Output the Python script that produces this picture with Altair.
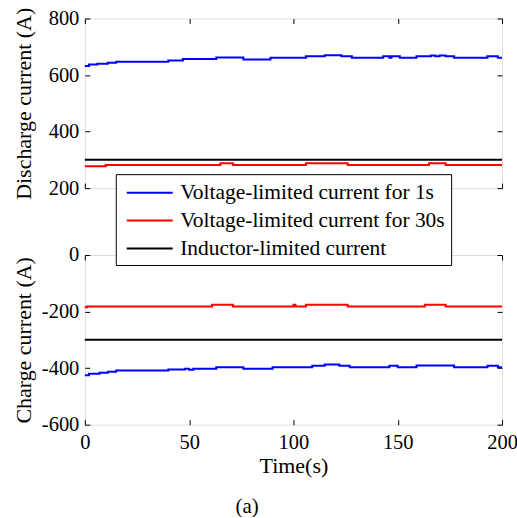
import altair as alt
import pandas as pd

S1 = "Voltage-limited current for 1s"
S2 = "Voltage-limited current for 30s"
S3 = "Inductor-limited current"

# Discharge panel
t_blue_dis = [0, 2, 6, 11, 15, 40, 47, 63, 76, 89, 106, 115, 123, 128, 143, 146, 147, 151, 159, 166, 168, 170, 173, 177, 193, 198, 200]
v_blue_dis = [632, 637, 640, 643, 647, 651, 657, 662, 655, 661, 666, 670, 666, 661, 666, 661, 666, 661, 666, 669, 666, 669, 666, 661, 666, 661, 661]
t_red_dis = [0, 10, 65, 71, 106, 126, 165, 173, 200]
v_red_dis = [277, 282, 288, 282, 288, 282, 288, 282, 282]
t_black_dis = [0, 200]
v_black_dis = [300, 300]

# Charge panel
t_blue_chg = [0, 2, 7, 11, 15, 40, 48, 50, 52, 63, 76, 90, 109, 115, 122, 127, 146, 150, 159, 177, 193, 198, 200]
v_blue_chg = [-425, -420, -416, -413, -408, -405, -402, -406, -402, -397, -402, -397, -392, -387, -392, -397, -392, -397, -391, -397, -392, -397, -397]
t_red_chg = [0, 1, 61, 71, 100, 101, 106, 126, 163, 173, 200]
v_red_chg = [-185, -182, -176, -182, -176, -182, -176, -182, -176, -182, -182]
t_black_chg = [0, 200]
v_black_chg = [-300, -300]

x_ticks = [0, 50, 100, 150, 200]
y_ticks_dis = [200, 400, 600, 800]
y_ticks_chg = [-600, -400, -200, 0]

FONT = "Liberation Serif"
TICK_FS = 20.5
TITLE_FS = 22
LEG_FS = 21.5


def frame(ts, vs, name):
    return pd.DataFrame({"t": ts, "v": vs, "series": name})


dis_df = pd.concat([frame(t_blue_dis, v_blue_dis, S1),
                    frame(t_red_dis, v_red_dis, S2),
                    frame(t_black_dis, v_black_dis, S3)])
chg_df = pd.concat([frame(t_blue_chg, v_blue_chg, S1),
                    frame(t_red_chg, v_red_chg, S2),
                    frame(t_black_chg, v_black_chg, S3)])

color_scale = alt.Scale(domain=[S1, S2, S3], range=["#0000FF", "#FF0000", "#000000"])


def panel(df, ytitle, ydomain, yticks, bottom, legend):
    xscale = alt.Scale(domain=[0, 200], nice=False, zero=False)
    yscale = alt.Scale(domain=ydomain, nice=False, zero=False)
    x_axis = alt.Axis(values=x_ticks, labels=bottom, title="Time(s)" if bottom else None,
                      offset=-5, tickSize=5, domain=False, grid=False, labelPadding=8,
                      labelFont=FONT, labelFontSize=TICK_FS, labelColor="black",
                      titleFont=FONT, titleFontSize=TITLE_FS, titleFontWeight="normal",
                      titleColor="black", titlePadding=2, tickColor="black",
                      labelFlush=False, minExtent=0, labelExpr="'' + datum.value")
    y_axis = alt.Axis(values=yticks, title=ytitle, offset=-5, tickSize=5, domain=False,
                      grid=False, labelPadding=6, labelFont=FONT, labelFontSize=TICK_FS,
                      labelColor="black", titleFont=FONT, titleFontSize=TITLE_FS,
                      titleFontWeight="normal", titleColor="black", tickColor="black",
                      titleX=-59, titleY=85, titleAlign="center", titleBaseline="alphabetic",
                      titleAngle=270, minExtent=0, labelExpr="'' + datum.value")
    if legend:
        leg = alt.Legend(orient="none", legendX=31, legendY=-81, title=None,
                         fillColor="white", strokeColor="black", padding=6,
                         symbolType="M-2,0H2", symbolSize=529, symbolStrokeWidth=2,
                         symbolOffset=15.5, labelOffset=18, labelFont=FONT,
                         labelFontSize=LEG_FS, labelColor="black", rowPadding=5,
                         labelLimit=400)
    else:
        leg = None
    lines = alt.Chart(df).mark_line(interpolate="step-after", strokeWidth=2).encode(
        x=alt.X("t:Q", scale=xscale, axis=x_axis),
        y=alt.Y("v:Q", scale=yscale, axis=y_axis),
        color=alt.Color("series:N", scale=color_scale, legend=leg, sort=[S1, S2, S3]),
    )
    ghost = alt.Chart(df).mark_line(opacity=0).encode(
        x=alt.X("t:Q", scale=xscale,
                axis=alt.Axis(orient="top", values=x_ticks, labels=False, title=None,
                              offset=-5, tickSize=5, domain=False, grid=False,
                              tickColor="black", minExtent=0)),
        y=alt.Y("v:Q", scale=yscale,
                axis=alt.Axis(orient="right", values=yticks, labels=False, title=None,
                              offset=-5, tickSize=5, domain=False, grid=False,
                              tickColor="black", minExtent=0)),
        detail="series:N",
    )
    return alt.layer(lines, ghost).resolve_axis(x="independent", y="independent").properties(
        width=418, height=170)


top = panel(dis_df, "Discharge current (A)", [200, 800], y_ticks_dis, False, False)
bot = panel(chg_df, "Charge current (A)", [-600, 0], y_ticks_chg, True, True)

chart = alt.vconcat(top, bot, spacing=67, bounds="flush").resolve_scale(color="independent").properties(
    padding={"left": 12, "top": 6, "right": -1, "bottom": 0},
    title=alt.TitleParams("(a)", orient="bottom", anchor="middle", fontSize=21, font=FONT,
                          fontWeight="normal", color="black", dx=-18, offset=19),
).configure_view(stroke="#333333", strokeWidth=1.5).configure(background="white")

chart.save("out.html", embed_options={"renderer": "svg", "actions": False})
